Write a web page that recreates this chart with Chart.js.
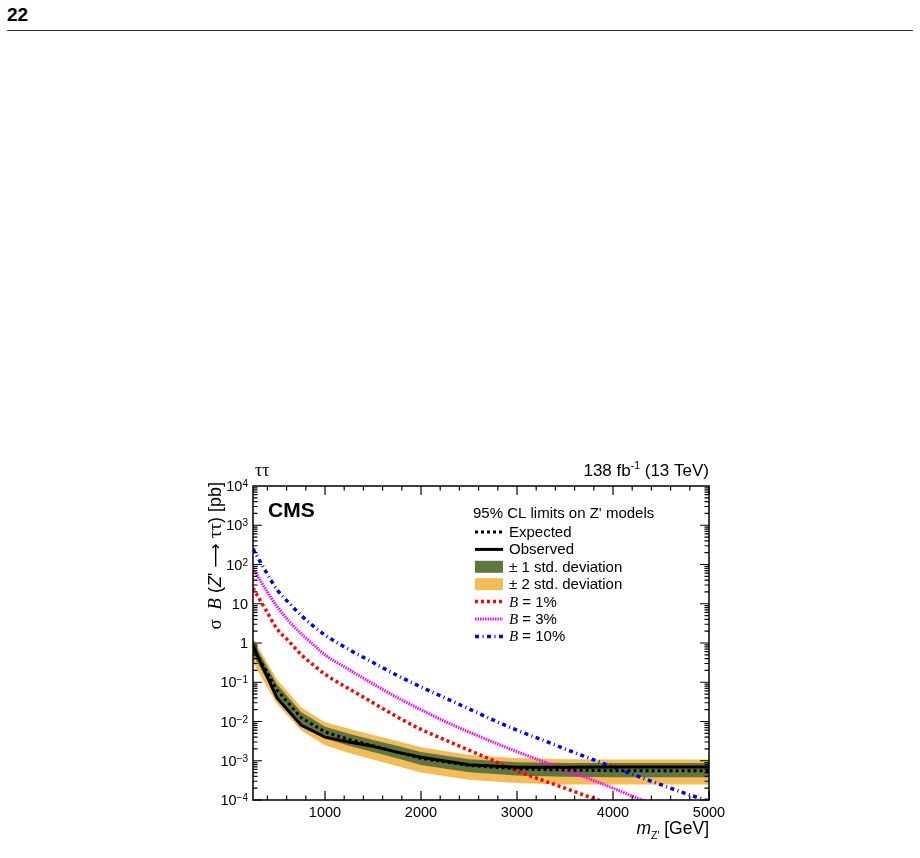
<!DOCTYPE html>
<html>
<head>
<meta charset="utf-8">
<script src="https://cdn.jsdelivr.net/npm/chart.js@4.4.0/dist/chart.umd.min.js"></script>
<style>
  html, body { margin: 0; padding: 0; background: #fff; }
  body { width: 920px; height: 858px; position: relative; overflow: hidden; font-family: "Liberation Sans", Arial, sans-serif; }
  #page { position: absolute; left: 7px; top: 5px; font-weight: bold; font-size: 19px; line-height: 19px; color: #000; }
  #rule { position: absolute; left: 7px; top: 30px; width: 906px; height: 1px; background: #333; }
  #wrap { position: absolute; left: 180px; top: 450px; width: 560px; height: 408px; }
</style>
</head>
<body>
<div id="page">22</div>
<div id="rule"></div>
<div id="wrap"><canvas id="chartLimits"></canvas></div>
<script>
// mass points of the limit scan (GeV)
var massLimit = [250, 500, 750, 1000, 1250, 1500, 1750, 2000, 2500, 3000, 3500, 4000, 4500, 5000];
// 95% CL limits on sigma*B (pb)
var expected = [0.76, 0.063, 0.0126, 0.0054, 0.0035, 0.0024, 0.00166, 0.00115, 0.00076, 0.00062, 0.00058, 0.00056, 0.00056, 0.00056];
var observed = [0.83, 0.040, 0.0081, 0.0040, 0.0030, 0.00234, 0.00166, 0.00123, 0.00079, 0.00068, 0.00068, 0.00069, 0.00069, 0.00069];
var oneSigmaUp = [1.07, 0.089, 0.0174, 0.0074, 0.0049, 0.0034, 0.0024, 0.00166, 0.0011, 0.00091, 0.00087, 0.00087, 0.00087, 0.00087];
var oneSigmaDown = [0.50, 0.042, 0.0085, 0.0037, 0.0024, 0.00166, 0.00115, 0.00078, 0.00051, 0.00042, 0.00039, 0.00038, 0.00038, 0.00038];
var twoSigmaUp = [1.32, 0.117, 0.023, 0.0095, 0.0065, 0.0045, 0.0032, 0.0022, 0.0014, 0.00115, 0.0011, 0.00107, 0.00107, 0.00107];
var twoSigmaDown = [0.32, 0.028, 0.006, 0.0025, 0.00158, 0.00107, 0.00074, 0.0005, 0.00033, 0.00027, 0.00025, 0.00025, 0.00025, 0.00025];

// model predictions for different branching fractions
var massModel = [250, 375, 500, 625, 750, 875, 1000, 1250, 1500, 1750, 2000, 2250, 2500, 2750, 3000, 3250, 3500, 3750, 4000, 4250, 4500, 4750, 5000];
var modelB1 = [25, 7.6, 2.3, 1.10, 0.51, 0.28, 0.16, 0.068, 0.030, 0.0132, 0.0063, 0.0034, 0.00186, 0.00102, 0.00055, 0.00033, 0.0002, 0.00012, 0.000074, 0.000046, 0.000028, 0.000018, 0.000011];
var modelB3 = [80, 25, 8.5, 3.6, 1.74, 0.93, 0.50, 0.21, 0.091, 0.041, 0.020, 0.010, 0.0054, 0.0030, 0.0017, 0.0010, 0.00059, 0.00035, 0.0002, 0.000112, 0.000066, 0.00004, 0.000025];
var modelB10 = [250, 72, 23, 10.5, 5.1, 2.75, 1.6, 0.68, 0.32, 0.15, 0.076, 0.040, 0.021, 0.011, 0.006, 0.0035, 0.002, 0.00117, 0.00069, 0.00041, 0.000245, 0.000148, 0.000093];

var xMin = 250, xMax = 5000;
var yMin = 1e-4, yMax = 1e4;
var xTickLabels = [1000, 2000, 3000, 4000, 5000];

var SANS = '"Liberation Sans", Arial, Helvetica, sans-serif';
var SERIF = '"Liberation Serif", "Times New Roman", serif';

function pts(xs, ys) {
    return xs.map(function(x, i) { return { x: x, y: ys[i] }; });
}

function runsWidth(ctx, runs) {
    var w = 0;
    runs.forEach(function(r) { ctx.font = r.font; w += ctx.measureText(r.text).width; });
    return w;
}
function drawRuns(ctx, runs, x, y) {
    runs.forEach(function(r) {
        ctx.font = r.font;
        ctx.fillText(r.text, x, y + (r.dy || 0));
        x += ctx.measureText(r.text).width;
    });
    return x;
}

var cmsDecor = {
    id: 'cmsDecor',
    afterDatasetsDraw: function(chart) {
        var ctx = chart.ctx, a = chart.chartArea;
        var xs = chart.scales.x, ys = chart.scales.y;
        ctx.save();
        ctx.fillStyle = '#000';
        ctx.strokeStyle = '#000';

        // frame
        ctx.lineWidth = 1.5;
        ctx.strokeRect(a.left, a.top, a.right - a.left, a.bottom - a.top);

        // ticks, on all four sides, pointing inwards
        ctx.lineWidth = 1.2;
        ctx.beginPath();
        for (var m = 400; m <= xMax; m += 200) {
            var px = xs.getPixelForValue(m);
            var len = (m % 1000 === 0) ? 9 : 4.5;
            ctx.moveTo(px, a.bottom); ctx.lineTo(px, a.bottom - len);
            ctx.moveTo(px, a.top); ctx.lineTo(px, a.top + len);
        }
        for (var k = -4; k <= 3; k++) {
            for (var j = 1; j <= 9; j++) {
                var py = ys.getPixelForValue(j * Math.pow(10, k));
                var l = (j === 1) ? 9 : 4.5;
                ctx.moveTo(a.left, py); ctx.lineTo(a.left + l, py);
                ctx.moveTo(a.right, py); ctx.lineTo(a.right - l, py);
            }
        }
        ctx.stroke();

        // y tick labels 10^k
        ctx.textAlign = 'left';
        ctx.textBaseline = 'alphabetic';
        for (var e = -4; e <= 4; e++) {
            var yy = ys.getPixelForValue(Math.pow(10, e));
            var runs;
            if (e === 0) runs = [{ text: '1', font: '14.5px ' + SANS }];
            else if (e === 1) runs = [{ text: '10', font: '14.5px ' + SANS }];
            else runs = [{ text: '10', font: '14.5px ' + SANS },
                         { text: (e < 0 ? '\u2212' + (-e) : '' + e), font: '10px ' + SANS, dy: -4 }];
            var w = runsWidth(ctx, runs);
            drawRuns(ctx, runs, a.left - 5 - w, yy + 5);
        }

        // texts above the frame
        ctx.font = '18px ' + SERIF;
        ctx.fillText('\u03c4\u03c4', a.left + 2, a.top - 10);
        var lumi = [{ text: '138 fb', font: '17px ' + SANS },
                    { text: '-1', font: '10.5px ' + SANS, dy: -7 },
                    { text: ' (13 TeV)', font: '17px ' + SANS }];
        drawRuns(ctx, lumi, a.right - runsWidth(ctx, lumi), a.top - 10);

        // CMS label
        ctx.font = 'bold 21px ' + SANS;
        ctx.fillText('CMS', a.left + 15, a.top + 31);

        // x axis title
        var xt = [{ text: 'm', font: 'italic 17.5px ' + SANS },
                  { text: "Z'", font: '10.5px ' + SANS, dy: 5 },
                  { text: ' [GeV]', font: '17.5px ' + SANS }];
        drawRuns(ctx, xt, a.right - runsWidth(ctx, xt), a.bottom + 34);

        // y axis title (rotated)
        var yt = [{ text: '\u03c3  ', font: '19px ' + SERIF },
                  { text: 'B', font: 'italic 19px ' + SERIF },
                  { text: ' (', font: '18px ' + SANS },
                  { text: 'Z', font: 'italic 18px ' + SANS },
                  { text: "' ", font: '18px ' + SANS },
                  { text: '\u27f6', font: '17px "DejaVu Sans", ' + SANS },
                  { text: ' ', font: '18px ' + SANS },
                  { text: '\u03c4\u03c4', font: '19px ' + SERIF },
                  { text: ') [pb]', font: '18px ' + SANS }];
        ctx.save();
        ctx.translate(a.left - 32, a.top - 4);
        ctx.rotate(-Math.PI / 2);
        drawRuns(ctx, yt, -runsWidth(ctx, yt), 0);
        ctx.restore();

        // legend, drawn from the datasets
        var lx = a.left + 222, ly = a.top + 46, step = 17.4;
        ctx.font = '15px ' + SANS;
        ctx.fillText("95% CL limits on Z' models", lx - 2, a.top + 32);
        var order = [1, 0, 5, 7, 2, 3, 4];
        order.forEach(function(di, row) {
            var ds = chart.data.datasets[di];
            var cy = ly + row * step;
            if (ds.fill !== false && ds.fill !== undefined) {
                ctx.fillStyle = ds.backgroundColor;
                ctx.fillRect(lx, cy - 6, 28, 12);
            } else {
                ctx.save();
                ctx.strokeStyle = ds.borderColor;
                ctx.lineWidth = ds.borderWidth;
                ctx.setLineDash(ds.borderDash || []);
                ctx.beginPath();
                ctx.moveTo(lx, cy); ctx.lineTo(lx + 28, cy);
                ctx.stroke();
                ctx.restore();
            }
            ctx.fillStyle = '#000';
            var lab;
            if (ds.label.indexOf('B = ') === 0) {
                lab = [{ text: 'B', font: 'italic 15px ' + SERIF }, { text: ds.label.slice(1), font: '15px ' + SANS }];
            } else {
                lab = [{ text: ds.label, font: '15px ' + SANS }];
            }
            drawRuns(ctx, lab, lx + 34, cy + 5);
        });
        ctx.restore();
    }
};

var green = '#607641';
var yellow = '#F5BB54';

var chart = new Chart(document.getElementById('chartLimits').getContext('2d'), {
    type: 'line',
    data: {
        datasets: [
            { label: 'Observed', data: pts(massLimit, observed), borderColor: '#000', borderWidth: 3, pointRadius: 0, fill: false, clip: 0 },
            { label: 'Expected', data: pts(massLimit, expected), borderColor: '#000', borderWidth: 3, borderDash: [3, 3], pointRadius: 0, fill: false, clip: 0 },
            { label: 'B = 1%', data: pts(massModel, modelB1), borderColor: '#ff0000', borderWidth: 3.5, borderDash: [3, 3], pointRadius: 0, fill: false, cubicInterpolationMode: 'monotone', clip: 0 },
            { label: 'B = 3%', data: pts(massModel, modelB3), borderColor: '#ff00ff', borderWidth: 3, borderDash: [1.5, 1], pointRadius: 0, fill: false, cubicInterpolationMode: 'monotone', clip: 0 },
            { label: 'B = 10%', data: pts(massModel, modelB10), borderColor: '#0000ff', borderWidth: 3.5, borderDash: [4, 3.5, 1, 3.5], pointRadius: 0, fill: false, cubicInterpolationMode: 'monotone', clip: 0 },
            { label: '\u00b1 1 std. deviation', data: pts(massLimit, oneSigmaUp), borderWidth: 0, pointRadius: 0, backgroundColor: green, fill: 6, clip: 0 },
            { label: '', data: pts(massLimit, oneSigmaDown), borderWidth: 0, pointRadius: 0, fill: false, clip: 0 },
            { label: '\u00b1 2 std. deviation', data: pts(massLimit, twoSigmaUp), borderWidth: 0, pointRadius: 0, backgroundColor: yellow, fill: 8, clip: 0 },
            { label: '', data: pts(massLimit, twoSigmaDown), borderWidth: 0, pointRadius: 0, fill: false, clip: 0 }
        ]
    },
    options: {
        responsive: true,
        maintainAspectRatio: false,
        animation: false,
        events: [],
        layout: { padding: { left: 0, right: 31, top: 36, bottom: 0 } },
        plugins: { legend: { display: false }, tooltip: { enabled: false } },
        scales: {
            x: {
                type: 'linear',
                min: xMin,
                max: xMax,
                grid: { display: false, drawTicks: false },
                border: { display: false },
                ticks: {
                    maxRotation: 0,
                    autoSkip: false,
                    padding: 4,
                    color: '#000',
                    font: { family: SANS, size: 14.5 },
                    callback: function(v) { return String(v); }
                },
                afterBuildTicks: function(scale) {
                    scale.ticks = xTickLabels.map(function(v) { return { value: v }; });
                },
                afterFit: function(scale) { scale.height = 58; }
            },
            y: {
                type: 'logarithmic',
                min: yMin,
                max: yMax,
                grid: { display: false, drawTicks: false },
                border: { display: false },
                ticks: { display: false },
                afterFit: function(scale) { scale.width = 73; }
            }
        }
    },
    plugins: [cmsDecor]
});
</script>
</body>
</html>
